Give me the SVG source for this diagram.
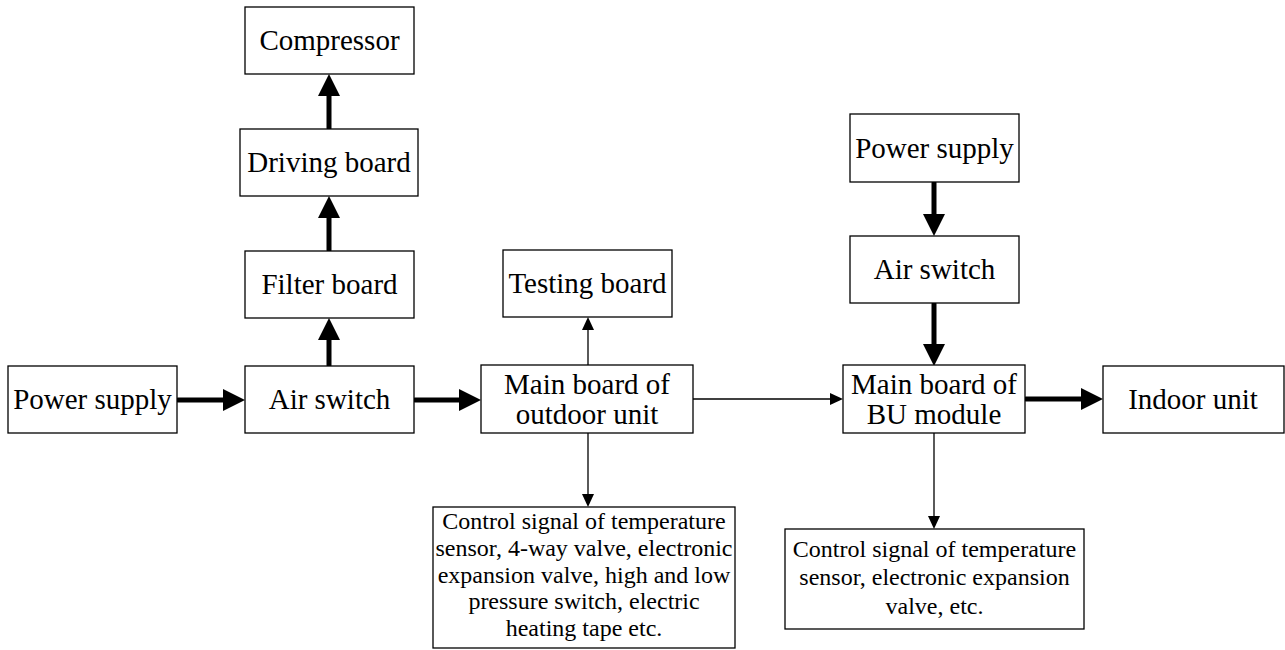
<svg xmlns="http://www.w3.org/2000/svg" width="1285" height="650" viewBox="0 0 1285 650">
<defs>
<style>
.box{fill:#fff;stroke:#000;stroke-width:1.3}
.t{font-family:"Liberation Serif","Times New Roman",serif;font-size:29px;text-anchor:middle;fill:#000}
.s{font-family:"Liberation Serif","Times New Roman",serif;font-size:24px;text-anchor:middle;fill:#000}
.thick{stroke:#000;stroke-width:5;fill:none;stroke-linecap:round}
.thin{stroke:#000;stroke-width:1.3;fill:none}
</style>
<marker id="ah" markerUnits="userSpaceOnUse" markerWidth="24" markerHeight="24" refX="0" refY="11" orient="auto">
<path d="M0,0 L22,11 L0,22 z" fill="#000"/>
</marker>
<marker id="as" markerUnits="userSpaceOnUse" markerWidth="14" markerHeight="14" refX="0" refY="6" orient="auto">
<path d="M0,0 L13,6 L0,12 z" fill="#000"/>
</marker>
</defs>
<rect width="1285" height="650" fill="#fff"/>
<g id="connectors">
<line class="thick" x1="178" y1="400" x2="223" y2="400" marker-end="url(#ah)"/>
<line class="thick" x1="329" y1="365" x2="329" y2="340" marker-end="url(#ah)"/>
<line class="thick" x1="329" y1="250" x2="329" y2="218" marker-end="url(#ah)"/>
<line class="thick" x1="329" y1="128" x2="329" y2="96" marker-end="url(#ah)"/>
<line class="thick" x1="415" y1="400" x2="459" y2="400" marker-end="url(#ah)"/>
<line class="thick" x1="934" y1="183" x2="934" y2="214" marker-end="url(#ah)"/>
<line class="thick" x1="934" y1="304" x2="934" y2="344" marker-end="url(#ah)"/>
<line class="thick" x1="1026" y1="399" x2="1081" y2="399" marker-end="url(#ah)"/>
<line class="thin" x1="588" y1="365" x2="588" y2="330" marker-end="url(#as)"/>
<line class="thin" x1="588" y1="433" x2="588" y2="494" marker-end="url(#as)"/>
<line class="thin" x1="693" y1="399" x2="830" y2="399" marker-end="url(#as)"/>
<line class="thin" x1="934" y1="433" x2="934" y2="516" marker-end="url(#as)"/>
</g>
<g id="compressor"><rect class="box" x="245" y="7" width="169" height="67"/><text class="t" x="329.5" y="50">Compressor</text></g>
<g id="driving-board"><rect class="box" x="240" y="129" width="178" height="67"/><text class="t" x="329" y="172">Driving board</text></g>
<g id="filter-board"><rect class="box" x="245" y="251" width="169" height="67"/><text class="t" x="329.5" y="294">Filter board</text></g>
<g id="air-switch-left"><rect class="box" x="245" y="366" width="169" height="67"/><text class="t" x="329.5" y="409">Air switch</text></g>
<g id="power-supply-left"><rect class="box" x="8" y="366" width="169" height="67"/><text class="t" x="92.5" y="409">Power supply</text></g>
<g id="testing-board"><rect class="box" x="503" y="250" width="169" height="67"/><text class="t" x="587.5" y="293">Testing board</text></g>
<g id="main-board-outdoor"><rect class="box" x="481" y="365" width="212" height="68"/><text class="t" x="587" y="394">Main board of</text><text class="t" x="587" y="424">outdoor unit</text></g>
<g id="control-left"><rect class="box" x="433" y="507" width="302" height="141"/>
<text class="s" x="584" y="529">Control signal of temperature</text>
<text class="s" x="584" y="556">sensor, 4-way valve, electronic</text>
<text class="s" x="584" y="583">expansion valve, high and low</text>
<text class="s" x="584" y="609">pressure switch, electric</text>
<text class="s" x="584" y="636">heating tape etc.</text></g>
<g id="power-supply-right"><rect class="box" x="850" y="114" width="169" height="68"/><text class="t" x="934.5" y="158">Power supply</text></g>
<g id="air-switch-right"><rect class="box" x="850" y="236" width="169" height="67"/><text class="t" x="934.5" y="279">Air switch</text></g>
<g id="main-board-bu"><rect class="box" x="843" y="365" width="182" height="68"/><text class="t" x="934" y="394">Main board of</text><text class="t" x="934" y="424">BU module</text></g>
<g id="indoor-unit"><rect class="box" x="1103" y="366" width="181" height="67"/><text class="t" x="1193" y="409">Indoor unit</text></g>
<g id="control-right"><rect class="box" x="785" y="529" width="299" height="100"/>
<text class="s" x="934.5" y="557">Control signal of temperature</text>
<text class="s" x="934.5" y="585">sensor, electronic expansion</text>
<text class="s" x="934.5" y="614">valve, etc.</text></g>
</svg>
